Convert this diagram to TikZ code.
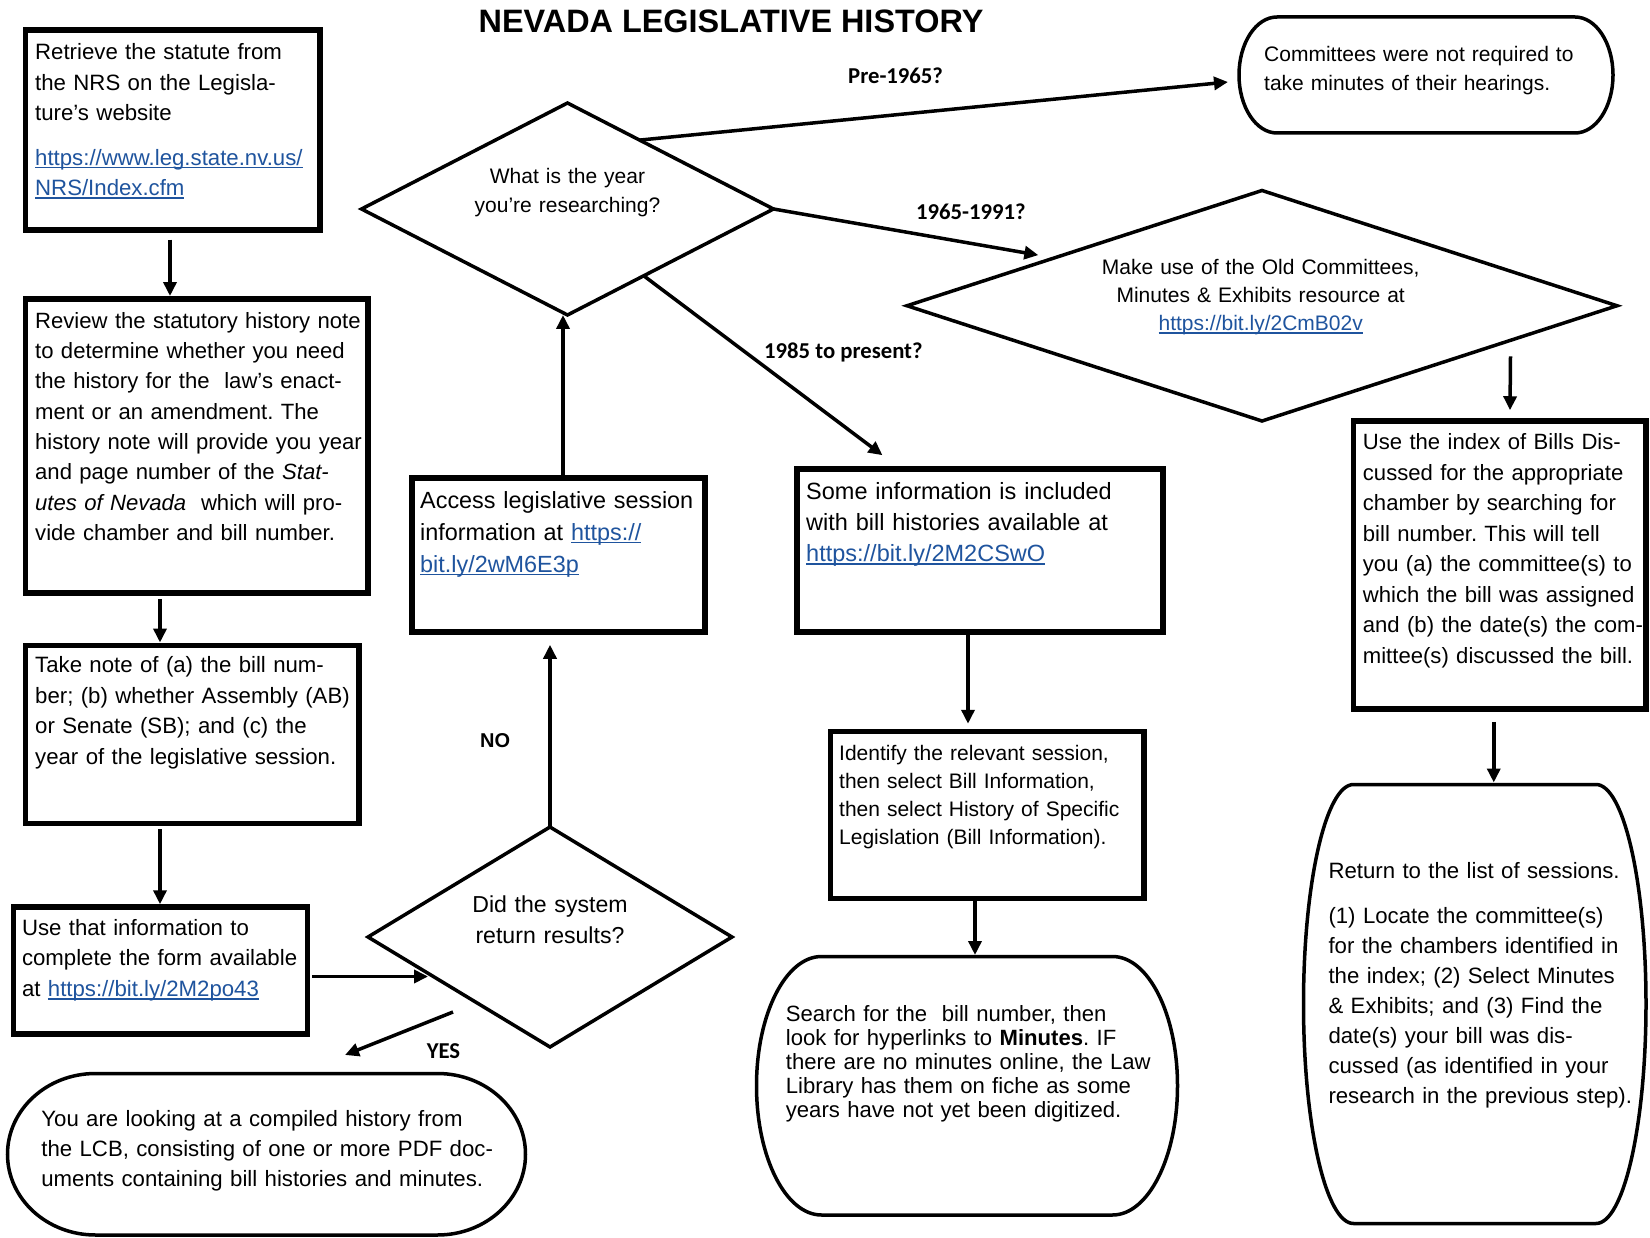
\documentclass[tikz,border=0pt]{standalone}
\usepackage{fontspec}
\setmainfont{Liberation Sans}
\newfontfamily\labfont{Carlito}
\usetikzlibrary{arrows.meta,calc}
\frenchspacing
\definecolor{linkblue}{RGB}{31,84,158}
\newcommand\ulink[1]{\leavevmode{\color{linkblue}\setbox0\hbox{#1}\rlap{\rule[-3.2pt]{\wd0}{1.7pt}}\box0}}
\newcommand\fsz[2]{\fontsize{#1}{#2}\selectfont}
% terminator outline: xl, xr, top, bottom, rx
\newcommand\termshape[5]{%
  \pgfmathsetmacro\tRx{#5}%
  \pgfmathsetmacro\tRy{(#4-#3)/2}%
  \pgfmathsetmacro\tA{#1+\tRx}\pgfmathsetmacro\tB{#2-\tRx}%
  \pgfmathsetmacro\tM{(#3+#4)/2}%
  \pgfmathsetmacro\tCx{0.5523*\tRx}\pgfmathsetmacro\tCy{0.5523*\tRy}%
  \draw[termline] (\tA,#3) -- (\tB,#3) .. controls (\tB+\tCx,#3) and (#2,\tM-\tCy) .. (#2,\tM)
    .. controls (#2,\tM+\tCy) and (\tB+\tCx,#4) .. (\tB,#4) -- (\tA,#4)
    .. controls (\tA-\tCx,#4) and (#1,\tM+\tCy) .. (#1,\tM)
    .. controls (#1,\tM-\tCy) and (\tA-\tCx,#3) .. (\tA,#3) -- cycle;}
\tikzset{
  boxst/.style={draw, line width=5.5pt, rectangle, inner sep=0pt, outer sep=2.75pt},
  ph/.style={rectangle, inner sep=0pt, outer sep=0pt, draw=none},
  termline/.style={line width=3.5pt},
  dline/.style={line width=3.5pt},
  arr/.style={line width=3.5pt, -{Triangle[length=14pt,width=13pt]}},
  txt/.style={inner sep=0pt, align=left, text width=460pt, anchor=base west},
  ctxt/.style={inner sep=0pt, align=center, text width=420pt, anchor=base},
  lab/.style={inner sep=0pt, anchor=base west, font=\labfont\bfseries\fsz{22.7}{27}},
}
\begin{document}
\begin{tikzpicture}[x=1pt,y=-1pt]
\useasboundingbox (0,0) rectangle (1650,1238);
\fill[white] (0,0) rectangle (1650,1238);

% title
\node[inner sep=0pt, anchor=base, font=\bfseries\fsz{32.4}{36}] (title) at (731,33) {NEVADA LEGISLATIVE HISTORY};

% rectangular boxes
\node[boxst, minimum width=294.5pt, minimum height=200pt] (b1) at (172.75,130) {};
\node[boxst, minimum width=342.5pt, minimum height=294.25pt] (b2) at (196.75,445.9) {};
\node[boxst, minimum width=333.5pt, minimum height=178.25pt] (b3) at (192.25,734.4) {};
\node[boxst, minimum width=294pt, minimum height=127pt] (b4) at (160.5,970.5) {};
\node[boxst, minimum width=293pt, minimum height=154pt] (acc) at (558.5,555) {};
\node[boxst, minimum width=366pt, minimum height=163pt] (some) at (980,550.5) {};
\node[boxst, minimum width=313.5pt, minimum height=167pt] (ident) at (987.25,815) {};
\node[boxst, minimum width=292.5pt, minimum height=288pt] (idx) at (1499.75,565) {};

% terminator shapes
\node[ph, minimum width=374pt, minimum height=116pt] (com) at (1426,75) {};
\termshape{1239}{1613}{17}{133}{38}
\node[ph, minimum width=421pt, minimum height=258.5pt] (srch) at (967,1085.75) {};
\termshape{756.5}{1177.5}{956.5}{1215}{65}
\node[ph, minimum width=342.5pt, minimum height=439pt] (ret) at (1474.75,1004) {};
\termshape{1303.5}{1646}{784.5}{1223.5}{50}
\node[ph, minimum width=518pt, minimum height=161.5pt] (yb) at (266.5,1154.25) {};
\termshape{7.5}{525.5}{1073.5}{1235}{88}

% diamonds
\node[ph, minimum width=412pt, minimum height=212pt] (d1) at (567.5,209) {};
\draw[dline] (d1.west) -- (d1.north) -- (d1.east) -- (d1.south) -- cycle;
\node[ph, minimum width=710pt, minimum height=230.5pt] (d2) at (1262,305.75) {};
\draw[dline] (d2.west) -- (d2.north) -- (d2.east) -- (d2.south) -- cycle;
\node[ph, minimum width=364pt, minimum height=220pt] (d3) at (550,937) {};
\draw[dline] (d3.west) -- (d3.north) -- (d3.east) -- (d3.south) -- cycle;

% texts
\node[txt, font=\fsz{22.2}{30.3}] (b1t) at (35,60) {Retrieve the statute from\\
the NRS on the Legisla-\\
ture’s website\\[14.4pt]
\ulink{https://www.leg.state.nv.us/}\\
\ulink{NRS/Index.cfm}};
\node[txt, font=\fsz{22.1}{30.36}] (b2t) at (35,328.2) {Review the statutory history note\\
to determine whether you need\\
the history for the~ law’s enact-\\
ment or an amendment. The\\
history note will provide you year\\
and page number of the \textit{Stat-}\\
\textit{utes of Nevada}~ which will pro-\\
vide chamber and bill number.};
\node[txt, font=\fsz{22.2}{30.4}] (b3t) at (35,672.9) {Take note of (a) the bill num-\\
ber; (b) whether Assembly (AB)\\
or Senate (SB); and (c) the\\
year of the legislative session.};
\node[txt, font=\fsz{22.2}{30.8}] (b4t) at (21.8,935) {Use that information to\\
complete the form available\\
at \ulink{https://bit.ly/2M2po43}};
\node[txt, font=\fsz{23.4}{32}] (acct) at (420,508) {Access legislative session\\
information at \ulink{https://}\\
\ulink{bit.ly/2wM6E3p}};
\node[txt, font=\fsz{23.5}{31}] (somet) at (806,500) {Some information is included\\
with bill histories available at\\
\ulink{https://bit.ly/2M2CSwO}};
\node[txt, font=\fsz{21}{28.3}] (identt) at (839,760) {Identify the relevant session,\\
then select Bill Information,\\
then select History of Specific\\
Legislation (Bill Information).};
\node[txt, font=\fsz{22.1}{30.5}] (idxt) at (1362.7,450) {Use the index of Bills Dis-\\
cussed for the appropriate\\
chamber by searching for\\
bill number. This will tell\\
you (a) the committee(s) to\\
which the bill was assigned\\
and (b) the date(s) the com-\\
mittee(s) discussed the bill.};
\node[txt, font=\fsz{21}{28.5}] (comt) at (1264,62) {Committees were not required to\\
take minutes of their hearings.};
\node[txt, font=\fsz{22.1}{23.9}] (srcht) at (785.7,1021.7) {Search for the~ bill number, then\\
look for hyperlinks to \textbf{Minutes}. IF\\
there are no minutes online, the Law\\
Library has them on fiche as some\\
years have not yet been digitized.};
\node[txt, font=\fsz{22.2}{30}] (rett) at (1328.3,878.3) {Return to the list of sessions.\\[14.7pt]
(1) Locate the committee(s)\\
for the chambers identified in\\
the index; (2) Select Minutes\\
\& Exhibits; and (3) Find the\\
date(s) your bill was dis-\\
cussed (as identified in your\\
research in the previous step).};
\node[txt, font=\fsz{22.2}{30}] (ybt) at (41.2,1126.7) {You are looking at a compiled history from\\
the LCB, consisting of one or more PDF doc-\\
uments containing bill histories and minutes.};
\node[ctxt, font=\fsz{21}{29}] (d1t) at (567.5,184) {What is the year\\you’re researching?};
\node[ctxt, font=\fsz{21}{28}] (d2t) at (1260.7,275) {Make use of the Old Committees,\\Minutes \& Exhibits resource at\\\ulink{https://bit.ly/2CmB02v}};
\node[ctxt, font=\fsz{23.1}{31.3}] (d3t) at (550,912) {Did the system\\return results?};

% labels
\node[lab] (lpre) at (848,83.3) {Pre-1965?};
\node[lab] (lmid) at (916,220) {1965-1991?};
\node[lab] (lpres) at (764,359) {1985 to present?};
\node[lab] (lyes) at (426.6,1058.3) {YES};
\node[inner sep=0pt, anchor=base west, font=\bfseries\fsz{20}{24}] (lno) at (480,747) {NO};

% connectors
\draw[arr] ([xshift=-2.75pt,yshift=-7pt]b1.south) -- ([xshift=-26.75pt]b2.north);
\draw[arr] ([xshift=-36.75pt,yshift=-3pt]b2.south) -- ([xshift=-32.25pt]b3.north);
\draw[arr] ([xshift=-32.25pt,yshift=-3pt]b3.south) -- ([xshift=-0.5pt]b4.north);
\coordinate (b4out) at ([xshift=2pt,yshift=-6pt]b4.east);
\coordinate (d3in) at ($(d3.west)!0.33!(d3.south)$);
\draw[arr] (b4out) -- (b4out -| d3in);
\draw[arr] (d3.north) -- ([xshift=-8.5pt,yshift=-10pt]acc.south);
\draw[arr] ([xshift=4.5pt]acc.north) -- ([xshift=-4.5pt]d1.south);
\draw[arr] ($(d1.north)!0.35!(d1.east)$) -- ([xshift=-11pt,yshift=-7pt]com.west);
\draw[arr] (d1.east) -- ([yshift=8pt]$(d2.west)!0.37!(d2.north)$);
\draw[arr] ($(d1.east)!0.63!(d1.south)$) -- ([xshift=-97.5pt,yshift=11pt]some.north);
\draw[arr] ([yshift=-16pt]$(d2.east)!0.3!(d2.south)$) -- ([xshift=10.25pt,yshift=8pt]idx.north);
\draw[arr] ([xshift=-6pt,yshift=-10pt]idx.south) -- ([xshift=19pt,yshift=2pt]ret.north);
\draw[arr] ([xshift=-12pt]some.south) -- ([xshift=-19.25pt,yshift=5pt]ident.north);
\draw[arr] ([xshift=-12.25pt]ident.south) -- ([xshift=8pt,yshift=1.5pt]srch.north);
\draw[arr] ([xshift=-97pt,yshift=35pt]d3.south) -- ([xshift=78.5pt,yshift=18.5pt]yb.north);
\end{tikzpicture}
\end{document}
